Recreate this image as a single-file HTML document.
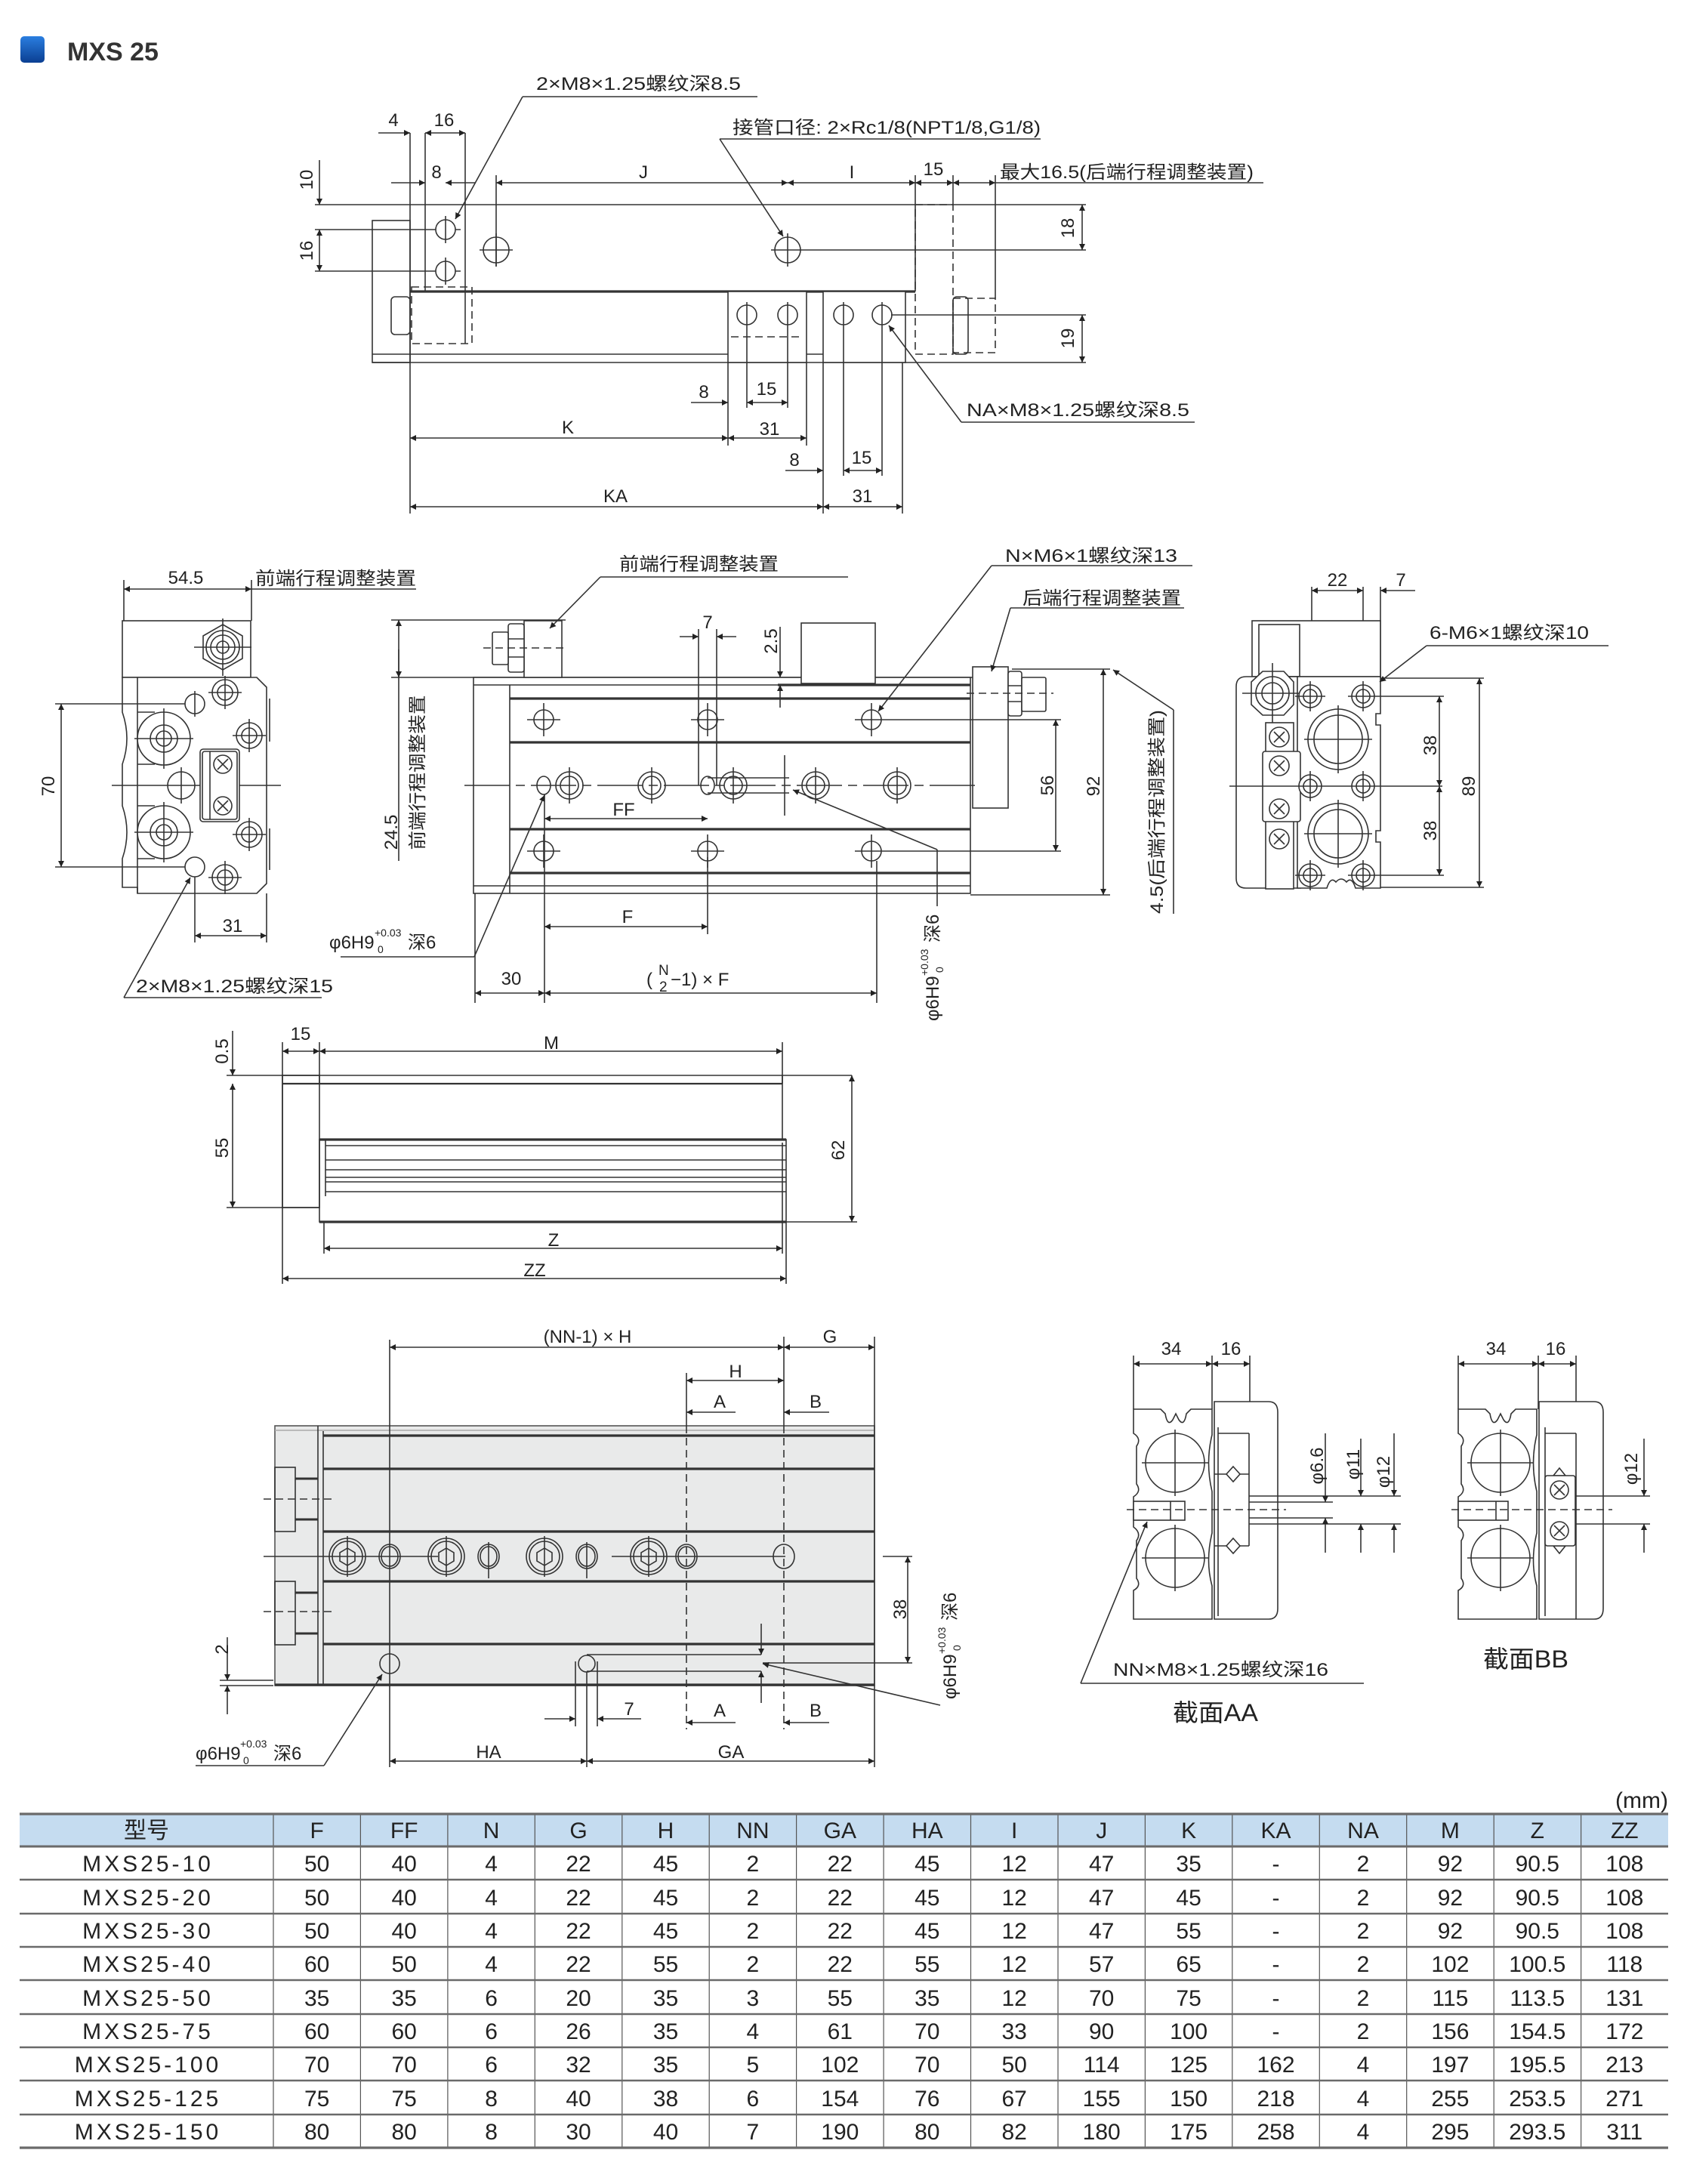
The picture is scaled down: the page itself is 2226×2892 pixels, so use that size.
<!DOCTYPE html>
<html><head><meta charset="utf-8"><style>
html,body{margin:0;padding:0;background:#fff}
svg{display:block}
text{font-family:"Liberation Sans","Noto Sans CJK SC",sans-serif;font-size:24px;fill:#222}
.c{text-anchor:middle}
.l{stroke:#333;stroke-width:1.6;fill:none}
.w{stroke:#333;stroke-width:1.6;fill:#fff}
.k{stroke:#333;stroke-width:3.2;fill:none}
.d{stroke:#333;stroke-width:1.6;fill:none;stroke-dasharray:10 6}
.m{marker-start:url(#a);marker-end:url(#a)}
.e{marker-end:url(#a)}
.t{font-size:30px}
.s{font-size:14px}
</style></head><body>
<svg width="2226" height="2892" viewBox="0 0 2226 2892" xmlns="http://www.w3.org/2000/svg">
<defs>
<marker id="a" viewBox="0 0 10 10" refX="10" refY="5" markerWidth="16" markerHeight="8" markerUnits="userSpaceOnUse" orient="auto-start-reverse"><path d="M0,0L10,5L0,10z" fill="#222"/></marker>
<linearGradient id="bg" x1="0" y1="0" x2="0" y2="1"><stop offset="0" stop-color="#2a7ee0"/><stop offset="1" stop-color="#0b3f92"/></linearGradient>
</defs>

<!-- TITLE -->
<rect x="27" y="48" width="32" height="35" rx="5" fill="url(#bg)"/>
<text x="89" y="80" style="font-size:34px;font-weight:bold;fill:#333">MXS 25</text>

<!-- ================= TOP VIEW ================= -->
<line class="l" x1="417" y1="271" x2="1438" y2="271"/>
<line class="l e" x1="423" y1="212" x2="423" y2="271"/>
<line class="l m" x1="423" y1="304" x2="423" y2="359"/>
<text class="c" transform="translate(414,238) rotate(-90)">10</text>
<text class="c" transform="translate(414,332) rotate(-90)">16</text>
<line class="l" x1="417" y1="304" x2="610" y2="304"/>
<line class="l" x1="417" y1="359" x2="610" y2="359"/>
<rect class="l" x="493" y="292" width="50" height="188"/>
<line class="l" x1="543" y1="176" x2="543" y2="680"/>
<line class="l" x1="563" y1="176" x2="563" y2="386"/>
<line class="l" x1="616" y1="176" x2="616" y2="455"/>
<circle class="w" cx="590" cy="304" r="13"/><line class="l" x1="590" y1="286" x2="590" y2="322"/>
<circle class="w" cx="590" cy="359" r="13"/><line class="l" x1="590" y1="341" x2="590" y2="377"/>
<circle class="w" cx="657" cy="331" r="17"/><line class="l" x1="635" y1="331" x2="679" y2="331"/><line class="l" x1="657" y1="309" x2="657" y2="353"/>
<circle class="w" cx="1043" cy="331" r="17"/><line class="l" x1="1021" y1="331" x2="1438" y2="331"/><line class="l" x1="1043" y1="309" x2="1043" y2="353"/>
<line class="k" x1="543" y1="386" x2="1212" y2="386"/>
<line class="l" x1="493" y1="469" x2="964" y2="469"/>
<line class="l" x1="493" y1="480" x2="1438" y2="480"/>
<rect class="l" x="518" y="393" width="25" height="50" rx="5"/>
<rect class="d" x="545" y="380" width="80" height="75"/>
<rect class="w" x="964" y="386" width="104" height="94"/>
<rect class="w" x="1090" y="386" width="109" height="94"/>
<line class="l" x1="1068" y1="469" x2="1090" y2="469"/>
<circle class="l" cx="989" cy="417" r="13"/><circle class="l" cx="1043" cy="417" r="13"/>
<circle class="l" cx="1117" cy="417" r="13"/><circle class="l" cx="1168" cy="417" r="13"/>
<line class="l" x1="1180" y1="417" x2="1438" y2="417"/>
<line class="d" x1="968" y1="446" x2="1064" y2="446"/>
<line class="l" x1="989" y1="400" x2="989" y2="540"/>
<line class="l" x1="1043" y1="400" x2="1043" y2="540"/>
<line class="l" x1="1117" y1="400" x2="1117" y2="630"/>
<line class="l" x1="1168" y1="400" x2="1168" y2="630"/>
<line class="l" x1="964" y1="480" x2="964" y2="590"/>
<line class="l" x1="1068" y1="480" x2="1068" y2="590"/>
<line class="l" x1="1090" y1="480" x2="1090" y2="680"/>
<line class="l" x1="1195" y1="480" x2="1195" y2="680"/>
<line class="l" x1="1212" y1="232" x2="1212" y2="386"/>
<line class="l" x1="1262" y1="232" x2="1262" y2="271"/>
<line class="l" x1="1318" y1="232" x2="1318" y2="395"/>
<rect class="d" x="1212" y="271" width="50" height="198"/>
<rect class="d" x="1262" y="395" width="56" height="72"/>
<rect class="l" x="1262" y="393" width="20" height="76" rx="5"/>
<!-- top dims -->
<line class="l e" x1="501" y1="176" x2="543" y2="176"/>
<line class="l m" x1="563" y1="176" x2="616" y2="176"/>
<text class="c" x="521" y="167">4</text><text class="c" x="588" y="167">16</text>
<line class="l e" x1="518" y1="242" x2="563" y2="242"/>
<line class="l e" x1="630" y1="242" x2="590" y2="242"/>
<text class="c" x="578" y="236">8</text>
<line class="l m" x1="657" y1="242" x2="1043" y2="242"/>
<line class="l m" x1="1043" y1="242" x2="1212" y2="242"/>
<line class="l m" x1="1212" y1="242" x2="1262" y2="242"/>
<line class="l m" x1="1262" y1="242" x2="1318" y2="242"/>
<line class="l" x1="1318" y1="242" x2="1673" y2="242"/>
<line class="l" x1="657" y1="232" x2="657" y2="353"/>
<text class="c" x="852" y="236">J</text><text class="c" x="1128" y="236">I</text><text class="c" x="1236" y="232">15</text>
<text x="1324" y="236" textLength="336" lengthAdjust="spacingAndGlyphs">最大16.5(后端行程调整装置)</text>
<line class="l m" x1="1433" y1="271" x2="1433" y2="331"/>
<text class="c" transform="translate(1422,302) rotate(-90)">18</text>
<line class="l m" x1="1433" y1="417" x2="1433" y2="480"/>
<text class="c" transform="translate(1422,448) rotate(-90)">19</text>
<line class="l e" x1="915" y1="533" x2="964" y2="533"/>
<line class="l m" x1="989" y1="533" x2="1043" y2="533"/>
<text class="c" x="932" y="527">8</text><text class="c" x="1015" y="523">15</text>
<line class="l m" x1="543" y1="580" x2="964" y2="580"/>
<line class="l m" x1="964" y1="580" x2="1068" y2="580"/>
<text class="c" x="752" y="574">K</text><text class="c" x="1019" y="576">31</text>
<line class="l e" x1="1040" y1="623" x2="1090" y2="623"/>
<line class="l m" x1="1117" y1="623" x2="1168" y2="623"/>
<text class="c" x="1052" y="617">8</text><text class="c" x="1141" y="614">15</text>
<line class="l m" x1="543" y1="671" x2="1090" y2="671"/>
<line class="l m" x1="1090" y1="671" x2="1195" y2="671"/>
<text class="c" x="815" y="665">KA</text><text class="c" x="1142" y="665">31</text>
<!-- top labels -->
<text x="710" y="119" textLength="271" lengthAdjust="spacingAndGlyphs">2×M8×1.25螺纹深8.5</text>
<line class="l" x1="692" y1="128" x2="1003" y2="128"/>
<line class="l e" x1="692" y1="128" x2="603" y2="290"/>
<text x="970" y="177" textLength="408" lengthAdjust="spacingAndGlyphs">接管口径: 2×Rc1/8(NPT1/8,G1/8)</text>
<line class="l" x1="953" y1="184" x2="1378" y2="184"/>
<line class="l e" x1="953" y1="184" x2="1037" y2="313"/>
<text x="1280" y="551" textLength="295" lengthAdjust="spacingAndGlyphs">NA×M8×1.25螺纹深8.5</text>
<line class="l" x1="1273" y1="559" x2="1582" y2="559"/>
<line class="l e" x1="1273" y1="559" x2="1177" y2="431"/>

<!-- ================= LEFT END VIEW (middle row) ================= -->
<line class="l m" x1="164" y1="780" x2="333" y2="780"/>
<line class="l" x1="333" y1="780" x2="551" y2="780"/>
<text class="c" x="246" y="773">54.5</text>
<text x="338" y="774" textLength="213" lengthAdjust="spacingAndGlyphs">前端行程调整装置</text>
<line class="l" x1="164" y1="768" x2="164" y2="822"/>
<line class="l" x1="333" y1="768" x2="333" y2="822"/>
<rect class="l" x="162" y="822" width="170" height="75"/>
<polygon class="w" points="295,827 321,842 321,872 295,887 269,872 269,842"/>
<circle class="l" cx="295" cy="857" r="22"/><circle class="l" cx="295" cy="857" r="16"/><circle class="l" cx="295" cy="857" r="8"/>
<line class="l" x1="257" y1="857" x2="333" y2="857"/><line class="l" x1="295" y1="819" x2="295" y2="895"/>
<path class="w" d="M162,897 H340 L353,910 V1170 L340,1183 H182 V1175 H162 V1137 Q174,1102 162,1067 V1012 Q174,978 162,943 Z"/>
<line class="l" x1="182" y1="897" x2="182" y2="1183"/>
<line class="l" x1="357" y1="925" x2="357" y2="982"/><line class="l" x1="357" y1="1097" x2="357" y2="1152"/>
<line class="l" x1="182" y1="943" x2="205" y2="943"/><line class="l" x1="182" y1="1012" x2="205" y2="1012"/>
<line class="l" x1="182" y1="1067" x2="205" y2="1067"/><line class="l" x1="182" y1="1137" x2="205" y2="1137"/>
<circle class="w" cx="217" cy="978" r="35"/><circle class="l" cx="217" cy="978" r="18"/><circle class="l" cx="217" cy="978" r="10"/>
<line class="l" x1="178" y1="978" x2="256" y2="978"/><line class="l" x1="217" y1="938" x2="217" y2="1018"/>
<circle class="w" cx="217" cy="1102" r="35"/><circle class="l" cx="217" cy="1102" r="18"/><circle class="l" cx="217" cy="1102" r="10"/>
<line class="l" x1="178" y1="1102" x2="256" y2="1102"/><line class="l" x1="217" y1="1062" x2="217" y2="1142"/>
<circle class="w" cx="240" cy="1040" r="18"/><line class="l" x1="240" y1="1016" x2="240" y2="1064"/>
<line class="l" x1="148" y1="1040" x2="372" y2="1040"/>
<circle class="l" cx="258" cy="932" r="13"/><line class="l" x1="258" y1="915" x2="258" y2="949"/>
<circle class="l" cx="258" cy="1148" r="13"/>
<g class="l">
<circle cx="298" cy="917" r="17"/><circle cx="298" cy="917" r="10"/><line x1="276" y1="917" x2="320" y2="917"/><line x1="298" y1="895" x2="298" y2="939"/>
<circle cx="330" cy="974" r="17"/><circle cx="330" cy="974" r="10"/><line x1="308" y1="974" x2="352" y2="974"/><line x1="330" y1="952" x2="330" y2="996"/>
<circle cx="330" cy="1105" r="17"/><circle cx="330" cy="1105" r="10"/><line x1="308" y1="1105" x2="352" y2="1105"/><line x1="330" y1="1083" x2="330" y2="1127"/>
<circle cx="298" cy="1162" r="17"/><circle cx="298" cy="1162" r="10"/><line x1="276" y1="1162" x2="320" y2="1162"/><line x1="298" y1="1140" x2="298" y2="1184"/>
</g>
<rect class="w" x="265" y="992" width="52" height="96" rx="4"/>
<rect class="l" x="268" y="995" width="46" height="90" rx="3"/>
<line class="l" x1="278" y1="995" x2="278" y2="1085"/>
<circle class="l" cx="295" cy="1012" r="12"/><path class="l" d="M288,1005 L302,1019 M302,1005 L288,1019"/>
<circle class="l" cx="295" cy="1067" r="12"/><path class="l" d="M288,1060 L302,1074 M302,1060 L288,1074"/>
<line class="l m" x1="81" y1="932" x2="81" y2="1148"/>
<text class="c" transform="translate(72,1041) rotate(-90)">70</text>
<line class="l" x1="73" y1="932" x2="245" y2="932"/>
<line class="l" x1="73" y1="1148" x2="245" y2="1148"/>
<line class="l" x1="258" y1="1161" x2="258" y2="1248"/>
<line class="l" x1="353" y1="1183" x2="353" y2="1248"/>
<line class="l m" x1="258" y1="1239" x2="353" y2="1239"/>
<text class="c" x="308" y="1234">31</text>
<text x="180" y="1314" textLength="261" lengthAdjust="spacingAndGlyphs">2×M8×1.25螺纹深15</text>
<line class="l" x1="164" y1="1321" x2="426" y2="1321"/>
<line class="l e" x1="164" y1="1321" x2="252" y2="1162"/>

<!-- ================= FRONT VIEW ================= -->
<line class="l" x1="518" y1="821" x2="749" y2="821"/>
<line class="l" x1="518" y1="897" x2="1290" y2="897"/>
<line class="l" x1="528" y1="1140" x2="528" y2="821" style="marker-end:url(#a)"/>
<line class="l e" x1="528" y1="860" x2="528" y2="897"/>
<text class="c" transform="translate(526,1102) rotate(-90)">24.5</text>
<text class="c" transform="translate(561,1023) rotate(-90)" textLength="205" lengthAdjust="spacingAndGlyphs">前端行程调整装置</text>
<rect class="w" x="627" y="897" width="658" height="286"/>
<line class="l" x1="675" y1="907" x2="675" y2="1183"/>
<line class="l" x1="627" y1="907" x2="1285" y2="907"/>
<line class="k" x1="675" y1="925" x2="1285" y2="925"/>
<line class="k" x1="675" y1="983" x2="1285" y2="983"/>
<line class="k" x1="675" y1="1098" x2="1285" y2="1098"/>
<line class="k" x1="675" y1="1156" x2="1285" y2="1156"/>
<line class="l" x1="627" y1="1173" x2="1285" y2="1173"/>
<line class="k" x1="1030" y1="907" x2="1285" y2="907"/>
<rect class="w" x="694" y="822" width="50" height="75"/>
<rect class="w" x="673" y="826" width="21" height="64" rx="3"/>
<line class="l" x1="673" y1="846" x2="694" y2="846"/><line class="l" x1="673" y1="870" x2="694" y2="870"/>
<rect class="w" x="652" y="837" width="21" height="43" rx="2"/>
<line class="d" x1="640" y1="858" x2="750" y2="858"/>
<rect class="w" x="1061" y="825" width="98" height="80"/>
<rect class="w" x="1288" y="883" width="47" height="187"/>
<rect class="w" x="1335" y="889" width="18" height="59" rx="3"/>
<line class="l" x1="1335" y1="908" x2="1353" y2="908"/><line class="l" x1="1335" y1="929" x2="1353" y2="929"/>
<rect class="w" x="1353" y="897" width="32" height="45" rx="2"/>
<line class="d" x1="1280" y1="918" x2="1395" y2="918"/>
<!-- holes -->
<g class="l">
<circle cx="720" cy="953" r="13"/><line x1="698" y1="953" x2="742" y2="953"/><line x1="720" y1="931" x2="720" y2="975"/>
<circle cx="937" cy="953" r="13"/><line x1="915" y1="953" x2="959" y2="953"/><line x1="937" y1="931" x2="937" y2="975"/>
<circle cx="1154" cy="953" r="13"/><line x1="1132" y1="953" x2="1405" y2="953"/><line x1="1154" y1="931" x2="1154" y2="975"/>
<circle cx="720" cy="1127" r="13"/><line x1="698" y1="1127" x2="742" y2="1127"/><line x1="720" y1="1105" x2="720" y2="1149"/>
<circle cx="937" cy="1127" r="13"/><line x1="915" y1="1127" x2="959" y2="1127"/><line x1="937" y1="1105" x2="937" y2="1149"/>
<circle cx="1154" cy="1127" r="13"/><line x1="1132" y1="1127" x2="1405" y2="1127"/><line x1="1154" y1="1105" x2="1154" y2="1149"/>
<ellipse cx="720" cy="1040" rx="9" ry="12"/><ellipse cx="937" cy="1040" rx="9" ry="12"/>
<circle cx="754" cy="1040" r="18"/><circle cx="754" cy="1040" r="12"/><line x1="754" y1="1016" x2="754" y2="1064"/>
<circle cx="863" cy="1040" r="18"/><circle cx="863" cy="1040" r="12"/><line x1="863" y1="1016" x2="863" y2="1064"/>
<circle cx="971" cy="1040" r="18"/><circle cx="971" cy="1040" r="12"/><line x1="971" y1="1016" x2="971" y2="1064"/>
<circle cx="1080" cy="1040" r="18"/><circle cx="1080" cy="1040" r="12"/><line x1="1080" y1="1016" x2="1080" y2="1064"/>
<circle cx="1188" cy="1040" r="18"/><circle cx="1188" cy="1040" r="12"/><line x1="1188" y1="1016" x2="1188" y2="1064"/>
<line x1="937" y1="1030" x2="1045" y2="1030"/><line x1="937" y1="1050" x2="1045" y2="1050"/>
</g>
<line class="l" x1="615" y1="1040" x2="1295" y2="1040" style="stroke-dasharray:60 8 12 8"/>
<line class="l" x1="1039" y1="1000" x2="1039" y2="1080"/>
<!-- front dims -->
<line class="l e" x1="900" y1="843" x2="925" y2="843"/>
<line class="l e" x1="975" y1="843" x2="949" y2="843"/>
<text class="c" x="937" y="832">7</text>
<line class="l" x1="925" y1="833" x2="925" y2="1040"/>
<line class="l" x1="949" y1="833" x2="949" y2="1040"/>
<line class="l e" x1="1033" y1="830" x2="1033" y2="897"/>
<line class="l e" x1="1033" y1="937" x2="1033" y2="907"/>
<text class="c" transform="translate(1029,849) rotate(-90)">2.5</text>
<line class="l m" x1="721" y1="1084" x2="937" y2="1084"/>
<text class="c" x="826" y="1080">FF</text>
<line class="l" x1="721" y1="1052" x2="721" y2="1328"/>
<line class="l" x1="937" y1="1135" x2="937" y2="1237"/>
<line class="l m" x1="721" y1="1227" x2="937" y2="1227"/>
<text class="c" x="831" y="1222">F</text>
<line class="l" x1="629" y1="1183" x2="629" y2="1328"/>
<line class="l" x1="1161" y1="1140" x2="1161" y2="1328"/>
<line class="l m" x1="629" y1="1315" x2="721" y2="1315"/>
<line class="l m" x1="721" y1="1315" x2="1161" y2="1315"/>
<text class="c" x="677" y="1304">30</text>
<text x="856" y="1305">(</text>
<text x="872" y="1291" style="font-size:19px">N</text>
<text x="873" y="1313" style="font-size:19px">2</text>
<text x="888" y="1305">−1) × F</text>
<line class="l m" x1="1398" y1="953" x2="1398" y2="1127"/>
<text class="c" transform="translate(1395,1040) rotate(-90)">56</text>
<line class="l" x1="1340" y1="886" x2="1470" y2="886"/>
<line class="l" x1="1285" y1="1185" x2="1470" y2="1185"/>
<line class="l m" x1="1461" y1="886" x2="1461" y2="1185"/>
<text class="c" transform="translate(1456,1041) rotate(-90)">92</text>
<line class="l e" x1="1554" y1="940" x2="1474" y2="887"/>
<line class="l" x1="1554" y1="940" x2="1554" y2="1210"/>
<text class="c" transform="translate(1540,1075) rotate(-90)" textLength="270" lengthAdjust="spacingAndGlyphs">4.5(后端行程调整装置)</text>
<text x="1331" y="744" textLength="228" lengthAdjust="spacingAndGlyphs">N×M6×1螺纹深13</text>
<line class="l" x1="1313" y1="749" x2="1579" y2="749"/>
<line class="l e" x1="1313" y1="749" x2="1163" y2="942"/>
<text x="1354" y="800" textLength="210" lengthAdjust="spacingAndGlyphs">后端行程调整装置</text>
<line class="l" x1="1338" y1="805" x2="1568" y2="805"/>
<line class="l e" x1="1338" y1="805" x2="1313" y2="889"/>
<text x="820" y="755" textLength="211" lengthAdjust="spacingAndGlyphs">前端行程调整装置</text>
<line class="l" x1="795" y1="764" x2="1123" y2="764"/>
<line class="l e" x1="795" y1="764" x2="728" y2="832"/>
<text x="436" y="1256">φ6H9</text><text class="s" x="496" y="1240">+0.03</text><text class="s" x="500" y="1262">0</text><text x="540" y="1256">深6</text>
<line class="l" x1="451" y1="1267" x2="628" y2="1267"/>
<line class="l e" x1="628" y1="1267" x2="721" y2="1053"/>
<line class="l" x1="1241" y1="1200" x2="1241" y2="1125"/>
<line class="l e" x1="1241" y1="1125" x2="1050" y2="1046"/>
<g transform="translate(1243,1352) rotate(-90)"><text x="0" y="0">φ6H9</text><text class="s" x="60" y="-14">+0.03</text><text class="s" x="64" y="6">0</text><text x="104" y="0">深6</text></g>

<!-- ================= RIGHT END VIEW ================= -->
<line class="l m" x1="1737" y1="782" x2="1805" y2="782"/>
<line class="l e" x1="1874" y1="782" x2="1828" y2="782"/>
<text class="c" x="1771" y="776">22</text><text class="c" x="1855" y="776">7</text>
<line class="l" x1="1737" y1="777" x2="1737" y2="929"/>
<line class="l" x1="1805" y1="777" x2="1805" y2="929"/>
<line class="l" x1="1828" y1="777" x2="1828" y2="898"/>
<rect class="w" x="1658" y="822" width="170" height="74"/>
<rect class="l" x="1667" y="827" width="54" height="69"/>
<path class="w" d="M1650,896 H1722 V1176 H1650 Q1637,1176 1637,1163 V909 Q1637,896 1650,896 Z"/>
<path class="w" d="M1718,896 H1828 V945 H1822 V960 H1828 V1100 H1822 V1115 H1828 V1176 H1795 Q1790,1160 1783,1168 Q1776,1160 1769,1168 Q1762,1160 1757,1176 H1718 Z"/>
<polygon class="w" points="1672,889 1700,889 1713,903 1713,933 1700,947 1672,947 1657,933 1657,903"/>
<circle class="l" cx="1685" cy="918" r="22"/><circle class="l" cx="1685" cy="918" r="14"/>
<line class="l" x1="1645" y1="918" x2="1725" y2="918"/><line class="l" x1="1685" y1="878" x2="1685" y2="958"/>
<rect class="w" x="1676" y="957" width="37" height="220"/>
<rect class="w" x="1672" y="995" width="50" height="93" rx="3"/>
<g class="l">
<circle cx="1694" cy="976" r="13"/><path d="M1687,969L1701,983M1701,969L1687,983"/>
<circle cx="1694" cy="1014" r="13"/><path d="M1687,1007L1701,1021M1701,1007L1687,1021"/>
<circle cx="1694" cy="1071" r="13"/><path d="M1687,1064L1701,1078M1701,1064L1687,1078"/>
<circle cx="1694" cy="1111" r="13"/><path d="M1687,1104L1701,1118M1701,1104L1687,1118"/>
</g>
<g class="l">
<circle cx="1772" cy="979" r="40"/><circle cx="1772" cy="979" r="32"/><line x1="1727" y1="979" x2="1817" y2="979"/><line x1="1772" y1="934" x2="1772" y2="1024"/>
<circle cx="1772" cy="1104" r="40"/><circle cx="1772" cy="1104" r="32"/><line x1="1727" y1="1104" x2="1817" y2="1104"/><line x1="1772" y1="1059" x2="1772" y2="1149"/>
</g>
<g class="l" style="fill:#fff">
<circle cx="1735" cy="922" r="15"/><circle cx="1735" cy="922" r="9"/>
<circle cx="1805" cy="922" r="15"/><circle cx="1805" cy="922" r="9"/>
<circle cx="1735" cy="1041" r="15"/><circle cx="1735" cy="1041" r="9"/>
<circle cx="1805" cy="1041" r="15"/><circle cx="1805" cy="1041" r="9"/>
<circle cx="1735" cy="1159" r="15"/><circle cx="1735" cy="1159" r="9"/>
<circle cx="1805" cy="1159" r="15"/><circle cx="1805" cy="1159" r="9"/>
</g>
<g class="l">
<line x1="1735" y1="902" x2="1735" y2="942"/><line x1="1715" y1="922" x2="1755" y2="922"/>
<line x1="1805" y1="902" x2="1805" y2="942"/><line x1="1785" y1="922" x2="1912" y2="922"/>
<line x1="1735" y1="1021" x2="1735" y2="1061"/><line x1="1805" y1="1021" x2="1805" y2="1061"/>
<line x1="1735" y1="1139" x2="1735" y2="1179"/><line x1="1715" y1="1159" x2="1755" y2="1159"/>
<line x1="1805" y1="1139" x2="1805" y2="1179"/><line x1="1785" y1="1159" x2="1912" y2="1159"/>
</g>
<line class="l" x1="1628" y1="1041" x2="1910" y2="1041"/>
<line class="l m" x1="1906" y1="922" x2="1906" y2="1041"/>
<line class="l m" x1="1906" y1="1041" x2="1906" y2="1159"/>
<text class="c" transform="translate(1902,987) rotate(-90)">38</text>
<text class="c" transform="translate(1902,1100) rotate(-90)">38</text>
<line class="l" x1="1828" y1="898" x2="1965" y2="898"/>
<line class="l" x1="1828" y1="1175" x2="1965" y2="1175"/>
<line class="l m" x1="1959" y1="898" x2="1959" y2="1175"/>
<text class="c" transform="translate(1953,1041) rotate(-90)">89</text>
<text x="1893" y="846" textLength="211" lengthAdjust="spacingAndGlyphs">6-M6×1螺纹深10</text>
<line class="l" x1="1889" y1="855" x2="2130" y2="855"/>
<line class="l e" x1="1889" y1="855" x2="1827" y2="903"/>

<!-- ================= SIDE VIEW ================= -->
<line class="l m" x1="374" y1="1392" x2="423" y2="1392"/>
<line class="l m" x1="423" y1="1392" x2="1036" y2="1392"/>
<text class="c" x="398" y="1377">15</text><text class="c" x="730" y="1389">M</text>
<line class="l" x1="374" y1="1380" x2="374" y2="1700"/>
<line class="l" x1="423" y1="1380" x2="423" y2="1435"/>
<line class="l" x1="1036" y1="1380" x2="1036" y2="1435"/>
<line class="l" x1="300" y1="1424" x2="1128" y2="1424"/>
<line class="l e" x1="308" y1="1365" x2="308" y2="1424"/>
<text class="c" transform="translate(302,1392) rotate(-90)">0.5</text>
<line class="l" x1="374" y1="1435" x2="1036" y2="1435" style="stroke-width:2.2"/>
<line class="l" x1="1036" y1="1424" x2="1036" y2="1509"/>
<rect class="l" x="374" y="1424" width="49" height="175"/>
<line class="l m" x1="308" y1="1435" x2="308" y2="1599"/>
<text class="c" transform="translate(302,1520) rotate(-90)">55</text>
<line class="l" x1="300" y1="1599" x2="423" y2="1599"/>
<rect class="l" x="423" y="1509" width="618" height="109"/>
<line class="k" x1="423" y1="1509" x2="1041" y2="1509"/>
<line class="l" x1="431" y1="1517" x2="1041" y2="1517"/>
<line class="l" x1="431" y1="1536" x2="1041" y2="1536"/>
<line class="l" x1="431" y1="1549" x2="1041" y2="1549"/>
<line class="l" x1="431" y1="1559" x2="1041" y2="1559"/>
<line class="l" x1="431" y1="1565" x2="1041" y2="1565"/>
<line class="l" x1="431" y1="1578" x2="1041" y2="1578"/>
<line class="k" x1="423" y1="1618" x2="1041" y2="1618"/>
<line class="l" x1="431" y1="1509" x2="431" y2="1584"/>
<line class="l" x1="1036" y1="1513" x2="1036" y2="1618"/>
<line class="l" x1="1041" y1="1618" x2="1135" y2="1618"/>
<line class="l m" x1="1128" y1="1424" x2="1128" y2="1618"/>
<text class="c" transform="translate(1118,1523) rotate(-90)">62</text>
<line class="l" x1="429" y1="1618" x2="429" y2="1660"/>
<line class="l" x1="1036" y1="1618" x2="1036" y2="1660"/>
<line class="l" x1="1041" y1="1618" x2="1041" y2="1700"/>
<line class="l m" x1="429" y1="1653" x2="1036" y2="1653"/>
<text class="c" x="733" y="1650">Z</text>
<line class="l m" x1="374" y1="1693" x2="1041" y2="1693"/>
<text class="c" x="708" y="1690">ZZ</text>

<!-- ================= BOTTOM-LEFT VIEW ================= -->
<rect x="364" y="1888" width="794" height="344" fill="#e9eaea" stroke="#555" stroke-width="1.6"/>
<line x1="364" y1="1894" x2="1158" y2="1894" stroke="#aaa" stroke-width="1.5"/>
<line class="l" x1="421" y1="1888" x2="421" y2="2232"/>
<line class="l" x1="428" y1="1895" x2="428" y2="2232"/>
<g class="k">
<line x1="428" y1="1901" x2="1158" y2="1901"/><line x1="428" y1="1945" x2="1158" y2="1945"/>
<line x1="428" y1="2028" x2="1158" y2="2028"/><line x1="428" y1="2094" x2="1158" y2="2094"/>
<line x1="428" y1="2177" x2="1158" y2="2177"/><line x1="364" y1="2231" x2="1158" y2="2231"/>
</g>
<rect class="l" x="364" y="1943" width="27" height="85"/>
<rect class="l" x="364" y="2094" width="27" height="84"/>
<line class="l" x1="391" y1="1958" x2="421" y2="1958" style="stroke-width:3"/><line class="l" x1="391" y1="2012" x2="421" y2="2012" style="stroke-width:3"/>
<line class="l" x1="391" y1="2109" x2="421" y2="2109" style="stroke-width:3"/><line class="l" x1="391" y1="2163" x2="421" y2="2163" style="stroke-width:3"/>
<line class="d" x1="349" y1="1985" x2="439" y2="1985"/>
<line class="d" x1="349" y1="2134" x2="439" y2="2134"/>
<line class="l" x1="349" y1="2061" x2="580" y2="2061"/>
<line class="l" x1="810" y1="2061" x2="1040" y2="2061"/>
<g class="l">
<circle cx="460" cy="2061" r="24"/><circle cx="460" cy="2061" r="20"/><polygon points="460,2050 470,2056 470,2067 460,2073 450,2067 450,2056"/><line x1="460" y1="2034" x2="460" y2="2088"/>
<circle cx="591" cy="2061" r="24"/><circle cx="591" cy="2061" r="20"/><polygon points="591,2050 601,2056 601,2067 591,2073 581,2067 581,2056"/><line x1="591" y1="2034" x2="591" y2="2088"/>
<circle cx="721" cy="2061" r="24"/><circle cx="721" cy="2061" r="20"/><polygon points="721,2050 731,2056 731,2067 721,2073 711,2067 711,2056"/><line x1="721" y1="2034" x2="721" y2="2088"/>
<circle cx="859" cy="2061" r="24"/><circle cx="859" cy="2061" r="20"/><polygon points="859,2050 869,2056 869,2067 859,2073 849,2067 849,2056"/><line x1="859" y1="2034" x2="859" y2="2088"/>
<ellipse cx="516" cy="2061" rx="14" ry="16"/><ellipse cx="516" cy="2061" rx="11" ry="13"/>
<ellipse cx="647" cy="2061" rx="14" ry="16"/><ellipse cx="647" cy="2061" rx="11" ry="13"/><line x1="647" y1="2042" x2="647" y2="2090"/>
<ellipse cx="777" cy="2061" rx="14" ry="16"/><ellipse cx="777" cy="2061" rx="11" ry="13"/><line x1="777" y1="2042" x2="777" y2="2090"/>
<ellipse cx="909" cy="2061" rx="14" ry="16"/><ellipse cx="909" cy="2061" rx="11" ry="13"/>
<ellipse cx="1038" cy="2061" rx="14" ry="16"/>
<circle cx="516" cy="2203" r="13"/>
<circle cx="777" cy="2203" r="11"/>
<line x1="777" y1="2191" x2="1008" y2="2191"/><line x1="777" y1="2213" x2="1008" y2="2213"/>
</g>
<!-- bottom-left dims -->
<line class="l" x1="516" y1="1774" x2="516" y2="2340"/>
<line class="l" x1="1038" y1="1770" x2="1038" y2="1888"/>
<line class="d" x1="1038" y1="1888" x2="1038" y2="2290"/>
<line class="l" x1="909" y1="1818" x2="909" y2="1888"/>
<line class="d" x1="909" y1="1888" x2="909" y2="2290"/>
<line class="l" x1="1158" y1="1770" x2="1158" y2="2340"/>
<line class="l m" x1="516" y1="1784" x2="1038" y2="1784"/>
<line class="l m" x1="1038" y1="1784" x2="1158" y2="1784"/>
<text class="c" x="778" y="1778">(NN-1) × H</text><text class="c" x="1099" y="1778">G</text>
<line class="l m" x1="909" y1="1828" x2="1038" y2="1828"/>
<text class="c" x="974" y="1824">H</text>
<line class="l e" x1="974" y1="1870" x2="909" y2="1870"/>
<line class="l e" x1="1098" y1="1870" x2="1038" y2="1870"/>
<text class="c" x="953" y="1864">A</text><text class="c" x="1080" y="1864">B</text>
<line class="l e" x1="1008" y1="2150" x2="1008" y2="2191"/>
<line class="l e" x1="1008" y1="2255" x2="1008" y2="2213"/>
<line class="l" x1="1169" y1="2061" x2="1208" y2="2061"/>
<line class="l" x1="1010" y1="2202" x2="1208" y2="2202"/>
<line class="l m" x1="1202" y1="2061" x2="1202" y2="2202"/>
<text class="c" transform="translate(1200,2131) rotate(-90)">38</text>
<line class="l" x1="291" y1="2225" x2="362" y2="2225"/>
<line class="l" x1="291" y1="2232" x2="362" y2="2232"/>
<line class="l e" x1="301" y1="2168" x2="301" y2="2225"/>
<line class="l e" x1="301" y1="2270" x2="301" y2="2232"/>
<text class="c" transform="translate(302,2184) rotate(-90)">2</text>
<line class="l" x1="762" y1="2200" x2="762" y2="2286"/>
<line class="l" x1="791" y1="2200" x2="791" y2="2286"/>
<line class="l" x1="777" y1="2214" x2="777" y2="2340"/>
<line class="l e" x1="721" y1="2276" x2="762" y2="2276"/>
<line class="l e" x1="849" y1="2276" x2="791" y2="2276"/>
<text class="c" x="833" y="2271">7</text>
<line class="l e" x1="974" y1="2281" x2="909" y2="2281"/>
<line class="l e" x1="1098" y1="2281" x2="1038" y2="2281"/>
<text class="c" x="953" y="2273">A</text><text class="c" x="1080" y="2273">B</text>
<line class="l m" x1="516" y1="2332" x2="777" y2="2332"/>
<line class="l m" x1="777" y1="2332" x2="1158" y2="2332"/>
<text class="c" x="647" y="2328">HA</text><text class="c" x="968" y="2328">GA</text>
<text x="259" y="2330">φ6H9</text><text class="s" x="318" y="2314">+0.03</text><text class="s" x="322" y="2336">0</text><text x="362" y="2330">深6</text>
<line class="l" x1="259" y1="2338" x2="429" y2="2338"/>
<line class="l e" x1="429" y1="2338" x2="506" y2="2217"/>
<line class="l e" x1="1245" y1="2258" x2="1010" y2="2203"/>
<g transform="translate(1266,2250) rotate(-90)"><text x="0" y="0">φ6H9</text><text class="s" x="60" y="-14">+0.03</text><text class="s" x="64" y="6">0</text><text x="104" y="0">深6</text></g>

<!-- ================= SECTION AA ================= -->
<line class="l" x1="1501" y1="1795" x2="1501" y2="1866"/>
<line class="l" x1="1605" y1="1795" x2="1605" y2="1866"/>
<line class="l" x1="1655" y1="1795" x2="1655" y2="1866"/>
<line class="l m" x1="1501" y1="1806" x2="1605" y2="1806"/>
<line class="l m" x1="1605" y1="1806" x2="1655" y2="1806"/>
<text class="c" x="1551" y="1794">34</text><text class="c" x="1630" y="1794">16</text>
<path class="w" d="M1501,1866 H1537 L1543,1872 Q1546,1890 1553,1880 L1557,1872 L1561,1880 Q1568,1890 1571,1872 L1577,1866 H1605 V1900 Q1596,1937 1605,1975 V2030 Q1596,2067 1605,2100 V2144 H1501 V2106 Q1512,2100 1505,2090 V2040 Q1512,2030 1501,2022 V1982 Q1512,1975 1505,1965 V1915 Q1512,1905 1501,1898 Z"/>
<circle class="l" cx="1556" cy="1937" r="39"/><line class="l" x1="1512" y1="1937" x2="1600" y2="1937"/><line class="l" x1="1556" y1="1893" x2="1556" y2="1981"/>
<circle class="l" cx="1556" cy="2063" r="39"/><line class="l" x1="1512" y1="2063" x2="1600" y2="2063"/><line class="l" x1="1556" y1="2019" x2="1556" y2="2107"/>
<path class="w" d="M1608,1856 H1680 Q1692,1856 1692,1870 V2130 Q1692,2144 1680,2144 H1608 Z"/>
<line class="l" x1="1613" y1="1898" x2="1654" y2="1898"/>
<line class="l" x1="1654" y1="1898" x2="1654" y2="2047"/>
<line class="l" x1="1613" y1="1890" x2="1613" y2="2140"/>
<line class="l" x1="1608" y1="1952" x2="1654" y2="1952"/>
<line class="l" x1="1608" y1="2047" x2="1654" y2="2047"/>
<polygon class="w" points="1633,1942 1642,1952 1633,1962 1624,1952"/>
<polygon class="w" points="1633,2037 1642,2047 1633,2057 1624,2047"/>
<rect class="w" x="1501" y="1988" width="68" height="25"/>
<line class="l" x1="1550" y1="1988" x2="1550" y2="2013"/>
<line class="d" x1="1492" y1="1999" x2="1703" y2="1999"/>
<line class="l" x1="1654" y1="1981" x2="1855" y2="1981"/>
<line class="l" x1="1654" y1="1989" x2="1765" y2="1989"/>
<line class="l" x1="1654" y1="2010" x2="1765" y2="2010"/>
<line class="l" x1="1654" y1="2018" x2="1855" y2="2018"/>
<line class="l e" x1="1755" y1="1898" x2="1755" y2="1989"/><line class="l e" x1="1755" y1="2056" x2="1755" y2="2010"/>
<line class="l e" x1="1802" y1="1905" x2="1802" y2="1981"/><line class="l e" x1="1802" y1="2056" x2="1802" y2="2018"/>
<line class="l e" x1="1846" y1="1898" x2="1846" y2="1981"/><line class="l e" x1="1846" y1="2056" x2="1846" y2="2018"/>
<text class="c" transform="translate(1752,1941) rotate(-90)">φ6.6</text>
<text class="c" transform="translate(1800,1939) rotate(-90)">φ11</text>
<text class="c" transform="translate(1840,1949) rotate(-90)">φ12</text>
<text x="1474" y="2219" textLength="285" lengthAdjust="spacingAndGlyphs">NN×M8×1.25螺纹深16</text>
<line class="l" x1="1431" y1="2229" x2="1806" y2="2229"/>
<line class="l e" x1="1431" y1="2229" x2="1519" y2="2015"/>
<text x="1553" y="2279" style="font-size:32px" textLength="113" lengthAdjust="spacingAndGlyphs">截面AA</text>

<!-- ================= SECTION BB ================= -->
<line class="l" x1="1931" y1="1795" x2="1931" y2="1866"/>
<line class="l" x1="2037" y1="1795" x2="2037" y2="1866"/>
<line class="l" x1="2087" y1="1795" x2="2087" y2="1866"/>
<line class="l m" x1="1931" y1="1806" x2="2037" y2="1806"/>
<line class="l m" x1="2037" y1="1806" x2="2087" y2="1806"/>
<text class="c" x="1981" y="1794">34</text><text class="c" x="2060" y="1794">16</text>
<path class="w" d="M1931,1866 H1967 L1973,1872 Q1976,1890 1983,1880 L1987,1872 L1991,1880 Q1998,1890 2001,1872 L2007,1866 H2035 V1900 Q2026,1937 2035,1975 V2030 Q2026,2067 2035,2100 V2144 H1931 V2106 Q1942,2100 1935,2090 V2040 Q1942,2030 1931,2022 V1982 Q1942,1975 1935,1965 V1915 Q1942,1905 1931,1898 Z"/>
<circle class="l" cx="1987" cy="1937" r="39"/><line class="l" x1="1943" y1="1937" x2="2031" y2="1937"/><line class="l" x1="1987" y1="1893" x2="1987" y2="1981"/>
<circle class="l" cx="1987" cy="2063" r="39"/><line class="l" x1="1943" y1="2063" x2="2031" y2="2063"/><line class="l" x1="1987" y1="2019" x2="1987" y2="2107"/>
<path class="w" d="M2038,1856 H2111 Q2123,1856 2123,1870 V2130 Q2123,2144 2111,2144 H2038 Z"/>
<line class="l" x1="2046" y1="1890" x2="2046" y2="2140"/>
<line class="l" x1="2046" y1="1898" x2="2087" y2="1898"/>
<line class="l" x1="2087" y1="1898" x2="2087" y2="2144"/>
<polygon class="w" points="2065,1944 2073,1954 2057,1954"/>
<polygon class="w" points="2065,2057 2073,2047 2057,2047"/>
<rect class="w" x="2046" y="1954" width="40" height="93" rx="3"/>
<circle class="l" cx="2065" cy="1973" r="12"/><path class="l" d="M2058,1966L2072,1980M2072,1966L2058,1980"/>
<circle class="l" cx="2065" cy="2027" r="12"/><path class="l" d="M2058,2020L2072,2034M2072,2020L2058,2034"/>
<rect class="w" x="1931" y="1988" width="66" height="25"/>
<line class="l" x1="1981" y1="1988" x2="1981" y2="2013"/>
<line class="d" x1="1922" y1="1999" x2="2135" y2="1999"/>
<line class="l" x1="2087" y1="1981" x2="2185" y2="1981"/>
<line class="l" x1="2087" y1="2018" x2="2185" y2="2018"/>
<line class="l e" x1="2177" y1="1905" x2="2177" y2="1981"/><line class="l e" x1="2177" y1="2056" x2="2177" y2="2018"/>
<text class="c" transform="translate(2168,1945) rotate(-90)">φ12</text>
<text x="1964" y="2208" style="font-size:32px" textLength="113" lengthAdjust="spacingAndGlyphs">截面BB</text>

<!-- ================= TABLE ================= -->
<text class="t" x="2209" y="2394" style="text-anchor:end">(mm)</text>
<rect x="26" y="2402" width="2183" height="43" fill="#c5dcf0"/>
<g stroke="#555" stroke-width="1.2">
<line x1="362" y1="2402" x2="362" y2="2844"/><line x1="477.4" y1="2402" x2="477.4" y2="2844"/>
<line x1="592.9" y1="2402" x2="592.9" y2="2844"/><line x1="708.3" y1="2402" x2="708.3" y2="2844"/>
<line x1="823.8" y1="2402" x2="823.8" y2="2844"/><line x1="939.2" y1="2402" x2="939.2" y2="2844"/>
<line x1="1054.6" y1="2402" x2="1054.6" y2="2844"/><line x1="1170.1" y1="2402" x2="1170.1" y2="2844"/>
<line x1="1285.5" y1="2402" x2="1285.5" y2="2844"/><line x1="1401" y1="2402" x2="1401" y2="2844"/>
<line x1="1516.4" y1="2402" x2="1516.4" y2="2844"/><line x1="1631.8" y1="2402" x2="1631.8" y2="2844"/>
<line x1="1747.3" y1="2402" x2="1747.3" y2="2844"/><line x1="1862.7" y1="2402" x2="1862.7" y2="2844"/>
<line x1="1978.2" y1="2402" x2="1978.2" y2="2844"/><line x1="2093.6" y1="2402" x2="2093.6" y2="2844"/>
</g>
<g stroke="#6a6a6a" stroke-width="2.6">
<line x1="26" y1="2402" x2="2209" y2="2402" stroke-width="3.2"/>
<line x1="26" y1="2445" x2="2209" y2="2445" stroke-width="3"/>
<line x1="26" y1="2489" x2="2209" y2="2489"/>
<line x1="26" y1="2534" x2="2209" y2="2534"/>
<line x1="26" y1="2578" x2="2209" y2="2578"/>
<line x1="26" y1="2622" x2="2209" y2="2622"/>
<line x1="26" y1="2667" x2="2209" y2="2667"/>
<line x1="26" y1="2711" x2="2209" y2="2711"/>
<line x1="26" y1="2755" x2="2209" y2="2755"/>
<line x1="26" y1="2800" x2="2209" y2="2800"/>
<line x1="26" y1="2844" x2="2209" y2="2844" stroke-width="3.2"/>
</g>
<g class="t" style="text-anchor:middle">
<text y="2434" class="t c"><tspan x="194">型号</tspan><tspan x="419.7">F</tspan><tspan x="535.2">FF</tspan><tspan x="650.6">N</tspan><tspan x="766">G</tspan><tspan x="881.5">H</tspan><tspan x="996.9">NN</tspan><tspan x="1112.3">GA</tspan><tspan x="1227.8">HA</tspan><tspan x="1343.2">I</tspan><tspan x="1458.7">J</tspan><tspan x="1574.1">K</tspan><tspan x="1689.5">KA</tspan><tspan x="1805">NA</tspan><tspan x="1920.4">M</tspan><tspan x="2035.8">Z</tspan><tspan x="2151.3">ZZ</tspan></text>
<text y="2478" class="t c"><tspan x="196" style="letter-spacing:4px">MXS25-10</tspan><tspan x="419.7">50</tspan><tspan x="535.2">40</tspan><tspan x="650.6">4</tspan><tspan x="766">22</tspan><tspan x="881.5">45</tspan><tspan x="996.9">2</tspan><tspan x="1112.3">22</tspan><tspan x="1227.8">45</tspan><tspan x="1343.2">12</tspan><tspan x="1458.7">47</tspan><tspan x="1574.1">35</tspan><tspan x="1689.5">-</tspan><tspan x="1805">2</tspan><tspan x="1920.4">92</tspan><tspan x="2035.8">90.5</tspan><tspan x="2151.3">108</tspan></text>
<text y="2523" class="t c"><tspan x="196" style="letter-spacing:4px">MXS25-20</tspan><tspan x="419.7">50</tspan><tspan x="535.2">40</tspan><tspan x="650.6">4</tspan><tspan x="766">22</tspan><tspan x="881.5">45</tspan><tspan x="996.9">2</tspan><tspan x="1112.3">22</tspan><tspan x="1227.8">45</tspan><tspan x="1343.2">12</tspan><tspan x="1458.7">47</tspan><tspan x="1574.1">45</tspan><tspan x="1689.5">-</tspan><tspan x="1805">2</tspan><tspan x="1920.4">92</tspan><tspan x="2035.8">90.5</tspan><tspan x="2151.3">108</tspan></text>
<text y="2567" class="t c"><tspan x="196" style="letter-spacing:4px">MXS25-30</tspan><tspan x="419.7">50</tspan><tspan x="535.2">40</tspan><tspan x="650.6">4</tspan><tspan x="766">22</tspan><tspan x="881.5">45</tspan><tspan x="996.9">2</tspan><tspan x="1112.3">22</tspan><tspan x="1227.8">45</tspan><tspan x="1343.2">12</tspan><tspan x="1458.7">47</tspan><tspan x="1574.1">55</tspan><tspan x="1689.5">-</tspan><tspan x="1805">2</tspan><tspan x="1920.4">92</tspan><tspan x="2035.8">90.5</tspan><tspan x="2151.3">108</tspan></text>
<text y="2611" class="t c"><tspan x="196" style="letter-spacing:4px">MXS25-40</tspan><tspan x="419.7">60</tspan><tspan x="535.2">50</tspan><tspan x="650.6">4</tspan><tspan x="766">22</tspan><tspan x="881.5">55</tspan><tspan x="996.9">2</tspan><tspan x="1112.3">22</tspan><tspan x="1227.8">55</tspan><tspan x="1343.2">12</tspan><tspan x="1458.7">57</tspan><tspan x="1574.1">65</tspan><tspan x="1689.5">-</tspan><tspan x="1805">2</tspan><tspan x="1920.4">102</tspan><tspan x="2035.8">100.5</tspan><tspan x="2151.3">118</tspan></text>
<text y="2656" class="t c"><tspan x="196" style="letter-spacing:4px">MXS25-50</tspan><tspan x="419.7">35</tspan><tspan x="535.2">35</tspan><tspan x="650.6">6</tspan><tspan x="766">20</tspan><tspan x="881.5">35</tspan><tspan x="996.9">3</tspan><tspan x="1112.3">55</tspan><tspan x="1227.8">35</tspan><tspan x="1343.2">12</tspan><tspan x="1458.7">70</tspan><tspan x="1574.1">75</tspan><tspan x="1689.5">-</tspan><tspan x="1805">2</tspan><tspan x="1920.4">115</tspan><tspan x="2035.8">113.5</tspan><tspan x="2151.3">131</tspan></text>
<text y="2700" class="t c"><tspan x="196" style="letter-spacing:4px">MXS25-75</tspan><tspan x="419.7">60</tspan><tspan x="535.2">60</tspan><tspan x="650.6">6</tspan><tspan x="766">26</tspan><tspan x="881.5">35</tspan><tspan x="996.9">4</tspan><tspan x="1112.3">61</tspan><tspan x="1227.8">70</tspan><tspan x="1343.2">33</tspan><tspan x="1458.7">90</tspan><tspan x="1574.1">100</tspan><tspan x="1689.5">-</tspan><tspan x="1805">2</tspan><tspan x="1920.4">156</tspan><tspan x="2035.8">154.5</tspan><tspan x="2151.3">172</tspan></text>
<text y="2744" class="t c"><tspan x="196" style="letter-spacing:4px">MXS25-100</tspan><tspan x="419.7">70</tspan><tspan x="535.2">70</tspan><tspan x="650.6">6</tspan><tspan x="766">32</tspan><tspan x="881.5">35</tspan><tspan x="996.9">5</tspan><tspan x="1112.3">102</tspan><tspan x="1227.8">70</tspan><tspan x="1343.2">50</tspan><tspan x="1458.7">114</tspan><tspan x="1574.1">125</tspan><tspan x="1689.5">162</tspan><tspan x="1805">4</tspan><tspan x="1920.4">197</tspan><tspan x="2035.8">195.5</tspan><tspan x="2151.3">213</tspan></text>
<text y="2789" class="t c"><tspan x="196" style="letter-spacing:4px">MXS25-125</tspan><tspan x="419.7">75</tspan><tspan x="535.2">75</tspan><tspan x="650.6">8</tspan><tspan x="766">40</tspan><tspan x="881.5">38</tspan><tspan x="996.9">6</tspan><tspan x="1112.3">154</tspan><tspan x="1227.8">76</tspan><tspan x="1343.2">67</tspan><tspan x="1458.7">155</tspan><tspan x="1574.1">150</tspan><tspan x="1689.5">218</tspan><tspan x="1805">4</tspan><tspan x="1920.4">255</tspan><tspan x="2035.8">253.5</tspan><tspan x="2151.3">271</tspan></text>
<text y="2833" class="t c"><tspan x="196" style="letter-spacing:4px">MXS25-150</tspan><tspan x="419.7">80</tspan><tspan x="535.2">80</tspan><tspan x="650.6">8</tspan><tspan x="766">30</tspan><tspan x="881.5">40</tspan><tspan x="996.9">7</tspan><tspan x="1112.3">190</tspan><tspan x="1227.8">80</tspan><tspan x="1343.2">82</tspan><tspan x="1458.7">180</tspan><tspan x="1574.1">175</tspan><tspan x="1689.5">258</tspan><tspan x="1805">4</tspan><tspan x="1920.4">295</tspan><tspan x="2035.8">293.5</tspan><tspan x="2151.3">311</tspan></text>
</g>
</svg>
</body></html>
